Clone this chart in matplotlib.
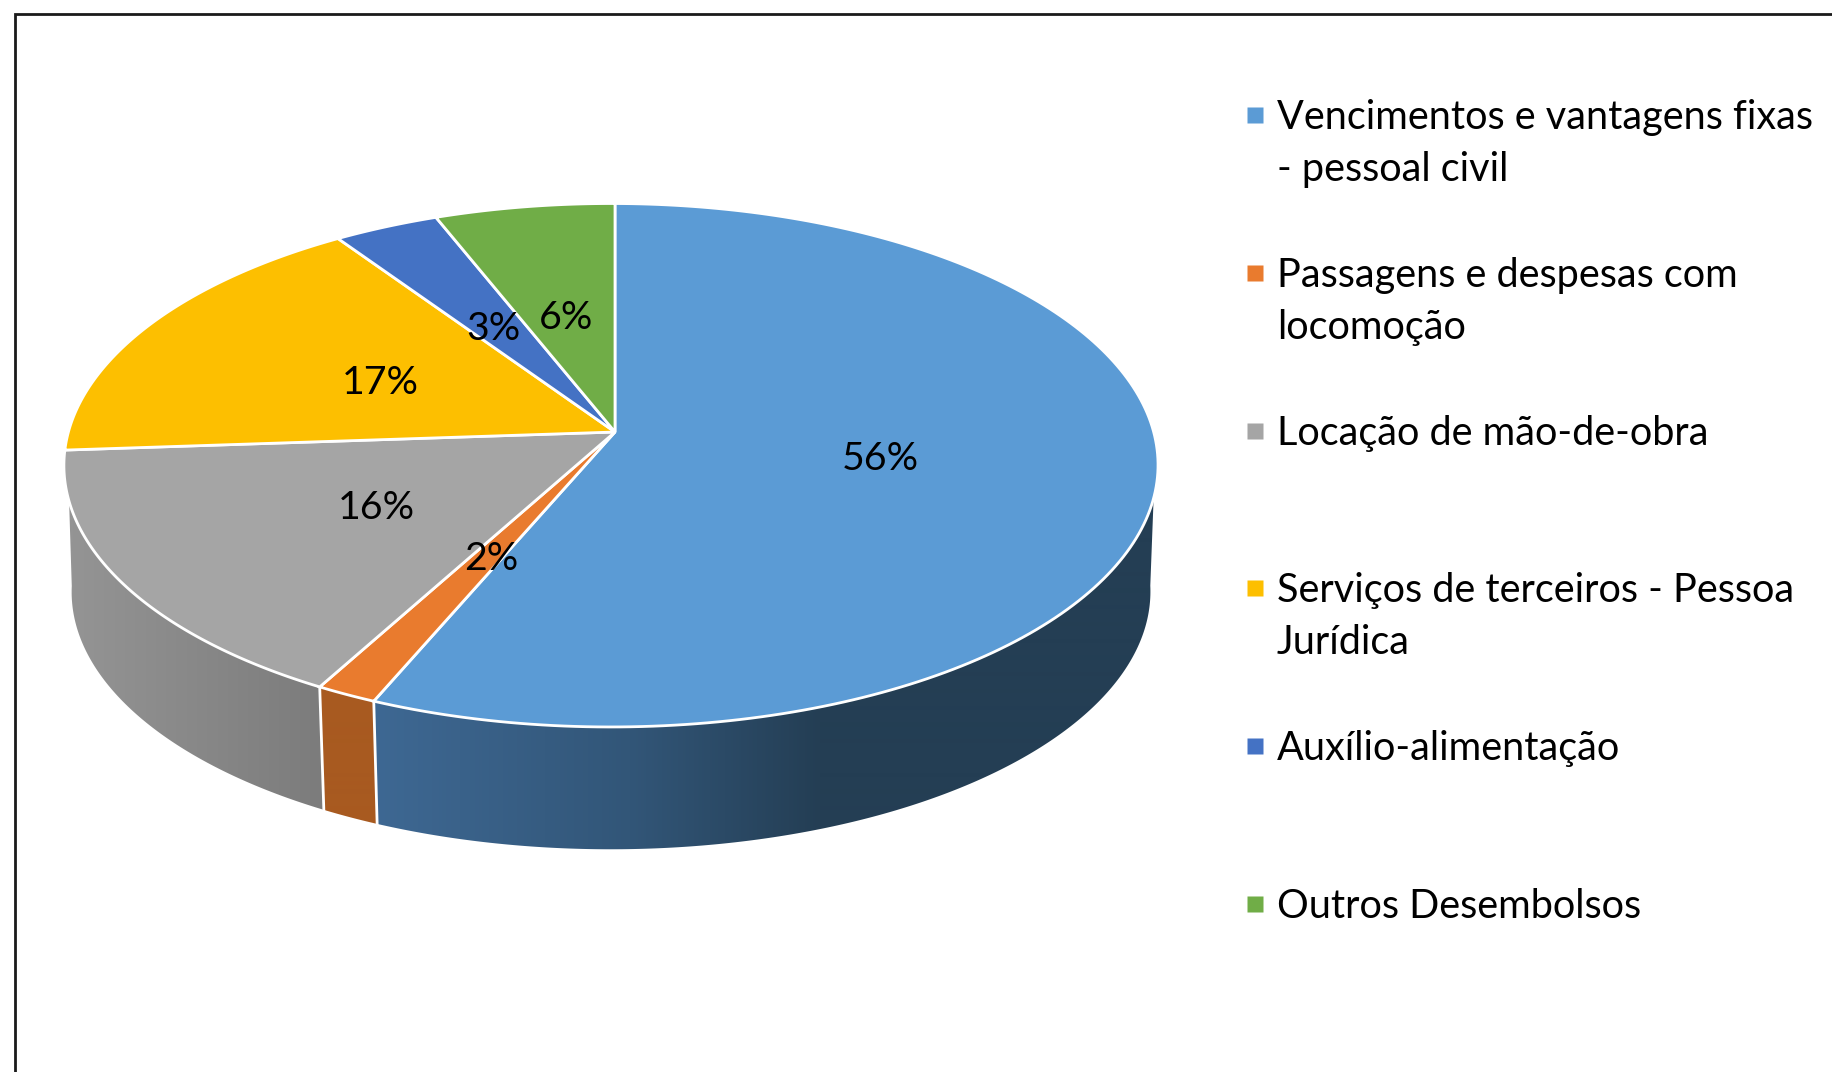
import numpy as np
import matplotlib
matplotlib.use('Agg')
import matplotlib.pyplot as plt
from matplotlib.patches import Polygon

plt.rcParams['font.family'] = ['Lato', 'DejaVu Sans']

# slices run clockwise from 12 o'clock
categories = ['Vencimentos e vantagens fixas\n- pessoal civil', 'Passagens e despesas com\nlocomoção',
              'Locação de mão-de-obra', 'Serviços de terceiros - Pessoa\nJurídica',
              'Auxílio-alimentação', 'Outros Desembolsos']
values = [56.4, 1.6, 15.9, 16.6, 3.5, 6.0]
pct_labels = ['56%', '2%', '16%', '17%', '3%', '6%']
colors = ['#5B9BD5', '#E97B2E', '#A5A5A5', '#FDBF00', '#4472C4', '#70AD47']

W, H = 1833, 1072
fig = plt.figure(figsize=(W / 100, H / 100), dpi=100)
ax = fig.add_axes([0, 0, 1, 1])
ax.set_xlim(0, W)
ax.set_ylim(H, 0)
ax.axis('off')


def rim(theta, cy, a, b, k=0.127, m=0.0073):
    # circle seen in perspective, theta clockwise from top
    w = 1 + k * np.cos(theta) + m * np.sin(theta)
    return 615 + a * np.sin(theta) / w, cy - b * np.cos(theta) / w


def top(theta):
    return rim(theta, 432, 542.6, 257.5)


def bottom(theta):
    return rim(theta, 559, 535, 253.4)


def wall_gradient(i):
    xs = np.arange(W)
    if i == 0:
        c = [np.interp(xs, [375, 630, 820], v) for v in ([62, 50, 36], [104, 86, 62], [147, 120, 84])]
    elif i == 1:
        c = [np.full(W, 168.0), np.full(W, 90.0), np.full(W, 32.0)]
    else:
        c = [np.interp(xs, [73, 320], [148, 124])] * 3
    return np.dstack(c)[0:1] / 255


edges = np.concatenate([[0], np.cumsum(values)]) / sum(values) * 2 * np.pi
# the wall leaves the top rim lower down than it joins the bottom rim
top_from, top_to = np.radians(104.5), np.radians(255)
low_from, low_to = np.radians(96), np.radians(264)

# side wall first, only the front part of the disc shows it
for i in range(3):
    t0 = np.linspace(max(edges[i], top_from), min(edges[i + 1], top_to), 200)
    t1 = np.linspace(max(edges[i], low_from), min(edges[i + 1], low_to), 200)
    x0, y0 = top(t0)
    x1, y1 = bottom(t1)
    poly = Polygon(np.c_[np.r_[x0, x1[::-1]], np.r_[y0, y1[::-1]]], transform=ax.transData, fc='none', ec='none')
    ax.add_patch(poly)
    im = ax.imshow(wall_gradient(i), extent=[0, W, H, 0], aspect='auto', zorder=2, interpolation='bilinear')
    im.set_clip_path(poly)
ax.set_xlim(0, W)
ax.set_ylim(H, 0)

for e in edges[[1, 2]]:
    x0, y0 = top(e)
    x1, y1 = bottom(e)
    ax.plot([x0, x1], [y0, y1], color='white', lw=2, zorder=3)

for i in range(len(values)):
    t = np.linspace(edges[i], edges[i + 1], 200)
    x, y = top(t)
    ax.fill(np.r_[615, x], np.r_[432, y], facecolor=colors[i], edgecolor='white', lw=2,
            joinstyle='miter', zorder=4)

label_x = [880, 491, 376, 380, 493, 566]
label_y = [459, 559, 508, 383, 329, 318]
for s, x, y in zip(pct_labels, label_x, label_y):
    ax.text(x, y, s, fontsize=28.3, color='black', ha='center', va='center', zorder=5)

legend_y = [115, 273, 431, 588, 746, 904]
for name, c, y in zip(categories, colors, legend_y):
    ax.plot(1255, y, marker='s', ms=11.5, mec='none', color=c, zorder=5)
    for j, line in enumerate(name.split('\n')):
        ax.text(1277, y + 14 + j * 52, line, fontsize=28.5, color='black', ha='left', va='baseline')

ax.plot([15, 15, W], [H, 14, 14], color='#1a1a1a', lw=2, solid_joinstyle='miter', zorder=6)

fig.savefig('out.png', dpi=100, facecolor='white')
